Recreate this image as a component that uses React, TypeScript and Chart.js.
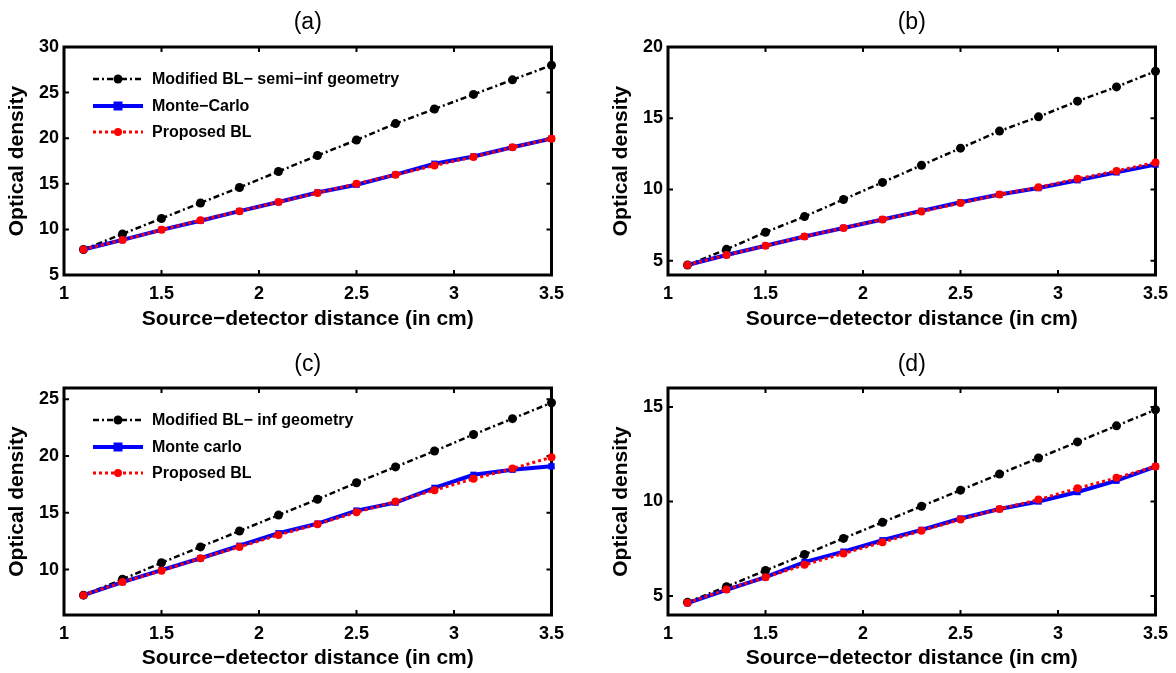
import React, { useEffect, useRef } from 'react';
import { Chart, registerables } from 'chart.js';

Chart.register(...registerables);

const FONT = '"Liberation Sans", Arial, Helvetica, sans-serif';

// ---- data ----
const xValues = [1.1, 1.3, 1.5, 1.7, 1.9, 2.1, 2.3, 2.5, 2.7, 2.9, 3.1, 3.3, 3.5];

const aModified = [7.8, 9.5, 11.2, 12.9, 14.6, 16.35, 18.1, 19.8, 21.6, 23.2, 24.8, 26.4, 28.0];
const aMonteCarlo = [7.8, 8.85, 9.95, 10.95, 12.0, 13.0, 14.05, 14.9, 16.0, 17.2, 18.0, 19.0, 19.95];
const aProposed = [7.8, 8.85, 9.95, 11.0, 12.0, 13.0, 14.0, 15.0, 16.0, 17.0, 17.95, 19.0, 19.95];

const bModified = [4.7, 5.8, 7.0, 8.1, 9.3, 10.5, 11.7, 12.9, 14.1, 15.1, 16.2, 17.2, 18.3];
const bMonteCarlo = [4.7, 5.4, 6.05, 6.7, 7.3, 7.9, 8.5, 9.1, 9.65, 10.1, 10.65, 11.2, 11.75];
const bProposed = [4.7, 5.4, 6.05, 6.7, 7.3, 7.9, 8.45, 9.05, 9.65, 10.15, 10.75, 11.3, 11.9];

const cModified = [7.75, 9.15, 10.6, 12.0, 13.4, 14.8, 16.2, 17.65, 19.05, 20.45, 21.9, 23.3, 24.7];
const cMonteCarlo = [7.75, 8.9, 9.95, 11.0, 12.1, 13.2, 14.05, 15.2, 15.9, 17.2, 18.35, 18.8, 19.1];
const cProposed = [7.75, 8.9, 9.9, 11.0, 12.0, 13.05, 14.0, 15.05, 16.0, 17.0, 18.0, 18.9, 19.9];

const dModified = [4.67, 5.5, 6.35, 7.2, 8.05, 8.9, 9.75, 10.6, 11.45, 12.3, 13.15, 14.0, 14.85];
const dMonteCarlo = [4.63, 5.33, 6.0, 6.8, 7.35, 7.95, 8.5, 9.1, 9.6, 10.0, 10.5, 11.1, 11.85];
const dProposed = [4.65, 5.35, 6.0, 6.65, 7.25, 7.85, 8.45, 9.05, 9.6, 10.1, 10.7, 11.25, 11.85];

const xTicks = [1, 1.5, 2, 2.5, 3, 3.5];
const aYTicks = [5, 10, 15, 20, 25, 30];
const bYTicks = [5, 10, 15, 20];
const cYTicks = [10, 15, 20, 25];
const dYTicks = [5, 10, 15];
const aYRange = [5, 30];
const bYRange = [4, 20];
const cYRange = [6, 26];
const dYRange = [4, 16];

const legendLabelsA = ['Modified BL\u2212 semi\u2212inf geometry', 'Monte\u2212Carlo', 'Proposed BL'];
const legendLabelsB = ['Modified BL\u2212 semi\u2212inf geometry', 'Monte\u2212Carlo', 'Proposed BL'];
const legendLabelsC = ['Modified BL\u2212 inf geometry', 'Monte carlo', 'Proposed BL'];
const legendLabelsD = ['Modified BL\u2212 inf geometry', 'Monte carlo', 'Proposed BL'];

const panelTitles = ['(a)', '(b)', '(c)', '(d)'];
const xAxisLabel = 'Source\u2212detector distance (in cm)';
const yAxisLabel = 'Optical density';

// ---- layout (positions only) ----
type Layout = { left: number; top: number; width: number; height: number; padTop: number; xAxisH: number; titleTop: number; xTitleBottom: number };
const TOP_ROW: Omit<Layout, 'left'> = { top: 0, width: 572, height: 336, padTop: 47, xAxisH: 61, titleTop: 11, xTitleBottom: 4 };
const BOT_ROW: Omit<Layout, 'left'> = { top: 340, width: 572, height: 333, padTop: 48, xAxisH: 58, titleTop: 13, xTitleBottom: 2 };

const boxPlugin = {
  id: 'matlabBox',
  beforeDatasetsDraw(chart: any) {
    const { ctx, chartArea, scales } = chart;
    const { left, right, top, bottom } = chartArea;
    ctx.save();
    ctx.strokeStyle = '#000';
    ctx.lineWidth = 2;
    ctx.setLineDash([]);
    const tl = 5;
    ctx.beginPath();
    scales.x.ticks.forEach((t: any) => {
      const px = scales.x.getPixelForValue(t.value);
      ctx.moveTo(px, bottom);
      ctx.lineTo(px, bottom - tl);
      ctx.moveTo(px, top);
      ctx.lineTo(px, top + tl);
    });
    scales.y.ticks.forEach((t: any) => {
      const py = scales.y.getPixelForValue(t.value);
      ctx.moveTo(left, py);
      ctx.lineTo(left + tl, py);
      ctx.moveTo(right, py);
      ctx.lineTo(right - tl, py);
    });
    ctx.stroke();
    ctx.lineWidth = 3;
    ctx.strokeRect(left, top, right - left, bottom - top);
    ctx.restore();
  },
};

function drawMarker(ctx: CanvasRenderingContext2D, style: string, x: number, y: number, r: number, color: string) {
  ctx.fillStyle = color;
  ctx.setLineDash([]);
  if (style === 'rect') {
    ctx.fillRect(x - r, y - r, 2 * r, 2 * r);
  } else {
    ctx.beginPath();
    ctx.arc(x, y, r, 0, Math.PI * 2);
    ctx.fill();
  }
}

const insideLegendPlugin = {
  id: 'insideLegend',
  afterDatasetsDraw(chart: any, _args: any, opts: any) {
    if (!opts || !opts.display) return;
    const { ctx, chartArea } = chart;
    const rows = [32, 59, 85];
    const x0 = chartArea.left + 29;
    const x1 = chartArea.left + 79;
    const tx = chartArea.left + 88;
    ctx.save();
    chart.data.datasets.forEach((ds: any, i: number) => {
      const y = chartArea.top + rows[i];
      ctx.strokeStyle = ds.borderColor;
      ctx.lineWidth = ds.borderWidth;
      ctx.setLineDash(ds.borderDash || []);
      ctx.beginPath();
      ctx.moveTo(x0, y);
      ctx.lineTo(x1, y);
      ctx.stroke();
      drawMarker(ctx, ds.pointStyle, (x0 + x1) / 2, y, ds.pointRadius, ds.pointBackgroundColor);
      ctx.fillStyle = '#000';
      ctx.font = `bold 16px ${FONT}`;
      ctx.textBaseline = 'middle';
      ctx.textAlign = 'left';
      ctx.fillText(ds.label, tx, y + 1);
    });
    ctx.restore();
  },
};

type PanelProps = {
  layout: Layout;
  title: string;
  modified: number[];
  monte: number[];
  proposed: number[];
  labels: string[];
  yRange: number[];
  yTicks: number[];
  showLegend: boolean;
};

function Panel(p: PanelProps) {
  const ref = useRef<HTMLCanvasElement>(null);
  useEffect(() => {
    const L = p.layout;
    const pts = (arr: number[]) => xValues.map((x, i) => ({ x, y: arr[i] }));
    const chart = new Chart(ref.current as HTMLCanvasElement, {
      type: 'line',
      data: {
        datasets: [
          {
            label: p.labels[0],
            data: pts(p.modified),
            borderColor: '#000000',
            backgroundColor: '#000000',
            borderWidth: 2.5,
            borderDash: [6, 3, 2, 3],
            pointStyle: 'circle',
            pointRadius: 4.5,
            pointBackgroundColor: '#000000',
            pointBorderWidth: 0,
            fill: false,
            tension: 0,
            clip: false,
            order: 3,
          },
          {
            label: p.labels[1],
            data: pts(p.monte),
            borderColor: '#0000ff',
            backgroundColor: '#0000ff',
            borderWidth: 4,
            pointStyle: 'rect',
            pointRadius: 4.5,
            pointBackgroundColor: '#0000ff',
            pointBorderWidth: 0,
            fill: false,
            tension: 0,
            clip: false,
            order: 2,
          },
          {
            label: p.labels[2],
            data: pts(p.proposed),
            borderColor: '#ff0000',
            backgroundColor: '#ff0000',
            borderWidth: 3,
            borderDash: [3, 3],
            pointStyle: 'circle',
            pointRadius: 4,
            pointBackgroundColor: '#ff0000',
            pointBorderWidth: 0,
            fill: false,
            tension: 0,
            clip: false,
            order: 1,
          },
        ] as any,
      },
      options: {
        responsive: false,
        animation: false,
        events: [],
        layout: { padding: { left: 0, right: L.width - 554, top: 0, bottom: 0 } },
        scales: {
          x: {
            type: 'linear',
            min: 1,
            max: 3.5,
            afterBuildTicks: (scale: any) => {
              scale.ticks = xTicks.map((v) => ({ value: v }));
            },
            afterFit: (scale: any) => {
              scale.height = L.xAxisH;
            },
            grid: { display: false, drawTicks: false },
            border: { display: false },
            ticks: {
              color: '#000',
              font: { family: FONT, size: 18, weight: 'bold' },
              padding: 8,
              maxRotation: 0,
              autoSkip: false,
              callback: (v: any) => String(v),
            },
            title: {
              display: true,
              text: xAxisLabel,
              color: '#000',
              font: { family: FONT, size: 21, weight: 'bold', lineHeight: 1.2 },
              padding: { top: 0, bottom: L.xTitleBottom },
            },
          },
          y: {
            type: 'linear',
            min: p.yRange[0],
            max: p.yRange[1],
            afterBuildTicks: (scale: any) => {
              scale.ticks = p.yTicks.map((v) => ({ value: v }));
            },
            afterFit: (scale: any) => {
              scale.width = 64;
            },
            grid: { display: false, drawTicks: false },
            border: { display: false },
            ticks: {
              color: '#000',
              font: { family: FONT, size: 18, weight: 'bold' },
              padding: 5,
              autoSkip: false,
              callback: (v: any) => String(v),
            },
            title: {
              display: true,
              text: yAxisLabel,
              color: '#000',
              font: { family: FONT, size: 21, weight: 'bold', lineHeight: 1.2 },
              padding: { top: 5, bottom: 0 },
            },
          },
        },
        plugins: {
          legend: { display: false },
          tooltip: { enabled: false },
          title: {
            display: true,
            text: p.title,
            color: '#000',
            fullSize: false,
            font: { family: FONT, size: 23, weight: 'normal', lineHeight: 1 },
            padding: { top: L.titleTop, bottom: L.padTop - 23 - L.titleTop },
          },
          insideLegend: { display: p.showLegend },
        } as any,
      } as any,
      plugins: [boxPlugin, insideLegendPlugin],
    });
    return () => chart.destroy();
  }, []);
  const L = p.layout;
  return (
    <canvas
      ref={ref}
      width={L.width}
      height={L.height}
      style={{ position: 'absolute', left: L.left, top: L.top, width: L.width, height: L.height }}
    />
  );
}

export default function App() {
  return (
    <div style={{ position: 'fixed', left: 0, top: 0, width: 1176, height: 673, background: '#fff', overflow: 'hidden' }}>
      <Panel layout={{ ...TOP_ROW, left: 0 }} title={panelTitles[0]} modified={aModified} monte={aMonteCarlo} proposed={aProposed} labels={legendLabelsA} yRange={aYRange} yTicks={aYTicks} showLegend={true} />
      <Panel layout={{ ...TOP_ROW, left: 604 }} title={panelTitles[1]} modified={bModified} monte={bMonteCarlo} proposed={bProposed} labels={legendLabelsB} yRange={bYRange} yTicks={bYTicks} showLegend={false} />
      <Panel layout={{ ...BOT_ROW, left: 0 }} title={panelTitles[2]} modified={cModified} monte={cMonteCarlo} proposed={cProposed} labels={legendLabelsC} yRange={cYRange} yTicks={cYTicks} showLegend={true} />
      <Panel layout={{ ...BOT_ROW, left: 604 }} title={panelTitles[3]} modified={dModified} monte={dMonteCarlo} proposed={dProposed} labels={legendLabelsD} yRange={dYRange} yTicks={dYTicks} showLegend={false} />
    </div>
  );
}
